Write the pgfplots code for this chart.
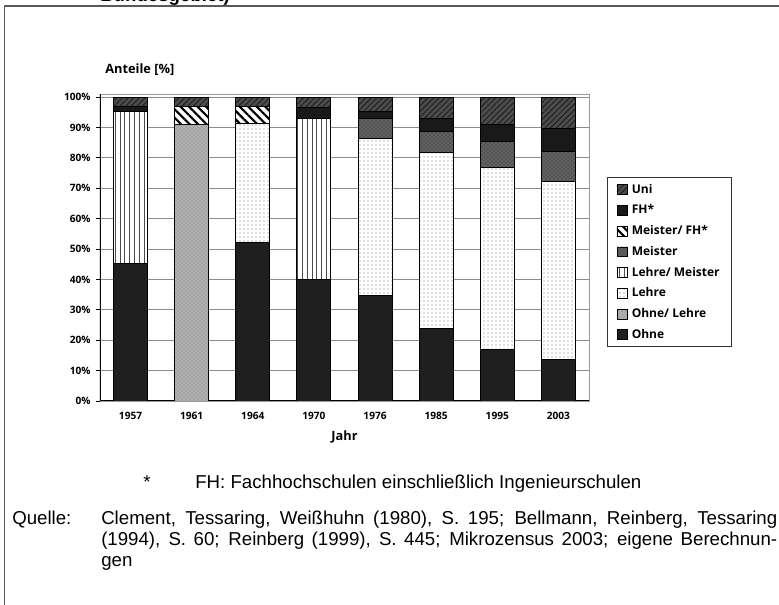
\documentclass[border=0pt]{standalone}
\usepackage{fontspec}
\setmainfont{Open Sans}
\newfontfamily\arialfont{Liberation Sans}
\usepackage{pgfplots}
\pgfplotsset{compat=1.18}
\usetikzlibrary{patterns,patterns.meta}

% stacked order: Ohne, Ohne/Lehre, Lehre, Lehre/Meister, Meister, Meister/FH, FH, Uni
\begin{document}
\begin{tikzpicture}[x=0.75pt,y=-0.75pt]
\useasboundingbox (0,0) rectangle (779,605);
\clip (0,0) rectangle (779,605);
\draw[black!65, line width=1.1pt] (4.5,640) -- (4.5,6) -- (800,6);
\node[anchor=base west, inner sep=0pt, font=\arialfont\bfseries\fontsize{14}{16}\selectfont] at (100,2) {Bundesgebiet)};
\begin{axis}[
  at={(75pt,-300.75pt)}, anchor=south west,
  scale only axis, width=366.75pt, height=230.25pt,
  ybar stacked, bar width=25.5pt,
  xmin=-0.5, xmax=7.5, ymin=0, ymax=101,
  xtick={0,...,7},
  xticklabels={1957,1961,1964,1970,1976,1985,1995,2003},
  x tick style={draw=none},
  extra x ticks={-0.5,0.5,...,7.5},
  extra x tick labels={},
  extra x tick style={grid=none, tick align=outside, major tick length=3pt, tick style={draw=black, line width=0.7pt}},
  ytick={0,10,...,100},
  yticklabel={\pgfmathprintnumber{\tick}\%},
  ytick pos=left,
  tick align=outside, major tick length=3pt,
  y tick style={black, line width=0.7pt},
  ymajorgrids, grid style={black!45, line width=0.6pt},
  axis line style={draw=black!40},
  /pgf/number format/assume math mode=true,
  ticklabel style={font=\bfseries\fontsize{7.6}{9}\selectfont},
  yticklabel style={xshift=-0.5pt},
  xticklabel style={yshift=-2pt},
  every axis plot/.append style={draw=black, line width=0.7pt},
  area legend,
  legend image code/.code={\draw[#1, line width=0.4pt] (0pt,-3.7pt) rectangle (7.4pt,3.7pt);},
  reverse legend,
  legend cell align=left,
  legend style={at={(rel axis cs:1.0368,0.7296)}, anchor=north west, draw=black!80, line width=0.6pt,
     font=\bfseries\fontsize{9}{10.5}\selectfont, row sep=3.2pt, inner xsep=7pt, inner ysep=3pt,
     /tikz/every odd column/.append style={column sep=1.5pt}},
]
\addplot[fill=black!88] coordinates {(0,45.3) (1,0) (2,52.1) (3,40.0) (4,34.6) (5,23.7) (6,17.0) (7,13.5)};
\addlegendentry{Ohne}
\addplot[fill=black!30, postaction={pattern=crosshatch dots, pattern color=black!55}] coordinates {(0,0) (1,91.1) (2,0) (3,0) (4,0) (5,0) (6,0) (7,0)};
\addlegendentry{Ohne/ Lehre}
\addplot[fill=white, postaction={pattern=dots, pattern color=black!55}] coordinates {(0,0) (1,0) (2,39.3) (3,0) (4,51.8) (5,58.0) (6,59.9) (7,58.6)};
\addlegendentry{Lehre}
\addplot[fill=white, postaction={pattern={Lines[angle=90,distance=3.6pt,line width=0.5pt]}, pattern color=black!70}] coordinates {(0,50.1) (1,0) (2,0) (3,53.0) (4,0) (5,0) (6,0) (7,0)};
\addlegendentry{Lehre/ Meister}
\addplot[fill=black!62, postaction={pattern=crosshatch dots, pattern color=black!85}] coordinates {(0,0) (1,0) (2,0) (3,0) (4,6.6) (5,7.1) (6,8.4) (7,9.9)};
\addlegendentry{Meister}
\addplot[fill=white, postaction={pattern={Lines[angle=-45,distance=4.5pt,line width=1.6pt]}, pattern color=black}] coordinates {(0,0) (1,5.9) (2,5.6) (3,0) (4,0) (5,0) (6,0) (7,0)};
\addlegendentry{Meister/ FH*}
\addplot[fill=black!90] coordinates {(0,1.6) (1,0) (2,0) (3,3.7) (4,2.4) (5,4.2) (6,5.8) (7,7.5)};
\addlegendentry{FH*}
\addplot[fill=black!70, postaction={pattern={Lines[angle=45,distance=3pt,line width=0.6pt]}, pattern color=black!90}] coordinates {(0,3.0) (1,3.0) (2,3.0) (3,3.3) (4,4.6) (5,7.0) (6,8.9) (7,10.5)};
\addlegendentry{Uni}
\draw[black, line width=0.8pt] (rel axis cs:0,1) -- (rel axis cs:0,0) -- (rel axis cs:1,0);
\end{axis}
\node[anchor=west, inner sep=0pt, font=\bfseries\fontsize{9.6}{11}\selectfont] at (105,69.5) {Anteile [\%]};
\node[font=\bfseries\fontsize{9.6}{11}\selectfont] at (344.5,437) {Jahr};
\begin{scope}[font=\arialfont\fontsize{14}{17}\selectfont]
\node[anchor=base west, inner sep=0pt] at (143,489) {*};
\node[anchor=base west, inner sep=0pt] at (195,489) {FH: Fachhochschulen einschließlich Ingenieurschulen};
\node[anchor=base west, inner sep=0pt] at (12,525) {Quelle:};
\node[anchor=base west, inner sep=0pt] at (101,525) {\makebox[507pt][s]{Clement, Tessaring, Weißhuhn (1980), S. 195; Bellmann, Reinberg, Tessaring}};
\node[anchor=base west, inner sep=0pt] at (101,546) {\makebox[507pt][s]{(1994), S. 60; Reinberg (1999), S. 445; Mikrozensus 2003; eigene Berechnun-}};
\node[anchor=base west, inner sep=0pt] at (101,567) {gen};
\end{scope}
\end{tikzpicture}
\end{document}
